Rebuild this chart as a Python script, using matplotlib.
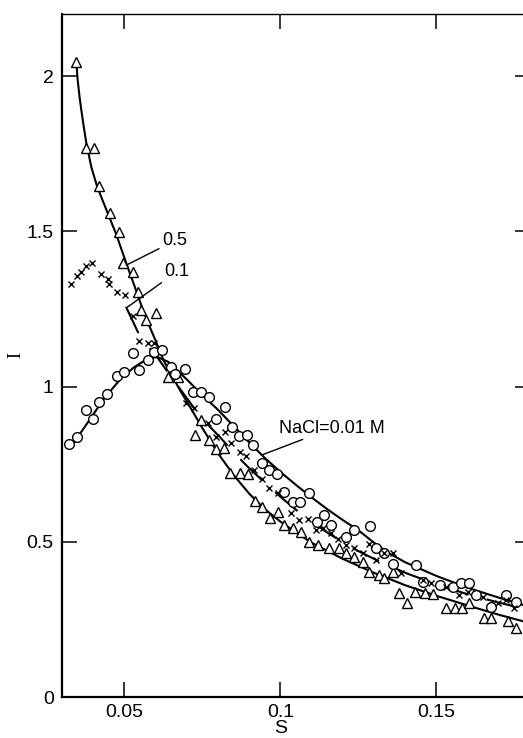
import matplotlib
matplotlib.use("Agg")
import matplotlib.pyplot as plt

plt.rcParams['font.family'] = ['Liberation Sans Narrow', 'Liberation Sans', 'DejaVu Sans']

# ---- data: NaCl = 0.5 M (triangles) ----
s_05 = [0.0346, 0.0377, 0.0401, 0.0420, 0.0455, 0.0482, 0.0494, 0.0527, 0.0543, 0.0553,
        0.0602, 0.0570, 0.0639, 0.0671, 0.0746, 0.0727, 0.0772, 0.0794, 0.0820, 0.0840,
        0.0869, 0.0895, 0.0920, 0.0941, 0.0968, 0.0991, 0.1013, 0.1039, 0.1066, 0.1093,
        0.1120, 0.1157, 0.1189, 0.1211, 0.1237, 0.1264, 0.1285, 0.1317, 0.1333, 0.1360,
        0.1381, 0.1406, 0.1430, 0.1462, 0.1490, 0.1532, 0.1560, 0.1581, 0.1606, 0.1654,
        0.1676, 0.1728, 0.1755]
i_05 = [2.045, 1.768, 1.768, 1.646, 1.559, 1.498, 1.399, 1.370, 1.305, 1.246,
        1.236, 1.214, 1.032, 1.030, 0.892, 0.845, 0.828, 0.798, 0.801, 0.722,
        0.722, 0.718, 0.632, 0.613, 0.578, 0.595, 0.554, 0.543, 0.532, 0.500,
        0.490, 0.479, 0.479, 0.463, 0.452, 0.436, 0.404, 0.393, 0.382, 0.404,
        0.334, 0.302, 0.339, 0.334, 0.332, 0.286, 0.286, 0.286, 0.302, 0.253,
        0.253, 0.245, 0.221]

# ---- data: NaCl = 0.1 M (crosses) ----
s_01 = [0.0329, 0.0348, 0.0361, 0.0377, 0.0395, 0.0425, 0.0447, 0.0452, 0.0476, 0.0503,
        0.0527, 0.0548, 0.0575, 0.0596, 0.0698, 0.0724, 0.0767, 0.0794, 0.0821, 0.0842,
        0.0869, 0.0890, 0.0914, 0.0942, 0.0965, 0.0991, 0.1034, 0.1061, 0.1087, 0.1114,
        0.1136, 0.1163, 0.1184, 0.1211, 0.1237, 0.1264, 0.1283, 0.1307, 0.1333, 0.1360,
        0.1387, 0.1456, 0.1483, 0.1531, 0.1574, 0.1600, 0.1649, 0.1697, 0.1723, 0.1750]
i_01 = [1.330, 1.356, 1.370, 1.388, 1.399, 1.364, 1.345, 1.330, 1.305, 1.295,
        1.228, 1.146, 1.141, 1.141, 0.946, 0.930, 0.881, 0.838, 0.854, 0.817,
        0.790, 0.776, 0.731, 0.703, 0.672, 0.658, 0.592, 0.570, 0.573, 0.538,
        0.543, 0.527, 0.510, 0.490, 0.479, 0.463, 0.492, 0.441, 0.463, 0.463,
        0.398, 0.377, 0.366, 0.355, 0.328, 0.339, 0.323, 0.302, 0.312, 0.286]

# ---- data: NaCl = 0.01 M (circles) ----
s_001 = [0.0324, 0.0348, 0.0377, 0.0398, 0.0420, 0.0445, 0.0477, 0.0500, 0.0527, 0.0548,
         0.0575, 0.0596, 0.0620, 0.0649, 0.0662, 0.0695, 0.0719, 0.0744, 0.0772, 0.0794,
         0.0821, 0.0845, 0.0866, 0.0892, 0.0913, 0.0941, 0.0965, 0.0988, 0.1013, 0.1039,
         0.1064, 0.1093, 0.1116, 0.1141, 0.1163, 0.1211, 0.1237, 0.1288, 0.1307, 0.1333,
         0.1360, 0.1435, 0.1456, 0.1510, 0.1552, 0.1579, 0.1606, 0.1627, 0.1675, 0.1723,
         0.1755]
i_001 = [0.815, 0.838, 0.924, 0.894, 0.951, 0.976, 1.034, 1.048, 1.107, 1.053,
         1.085, 1.112, 1.118, 1.064, 1.042, 1.055, 0.983, 0.983, 0.967, 0.894,
         0.935, 0.870, 0.841, 0.844, 0.812, 0.753, 0.731, 0.718, 0.661, 0.629,
         0.629, 0.658, 0.565, 0.586, 0.554, 0.516, 0.538, 0.551, 0.479, 0.463,
         0.430, 0.425, 0.371, 0.361, 0.355, 0.366, 0.366, 0.329, 0.291, 0.329,
         0.307]

# ---- fitted curves ----
fit05_s = [0.0346, 0.0350, 0.0356, 0.0362, 0.0370, 0.0378, 0.0394, 0.0413, 0.0430, 0.0446,
           0.0474, 0.0505, 0.0537, 0.0560, 0.0580, 0.0600, 0.0625, 0.0650, 0.0680, 0.0710,
           0.0750, 0.0800, 0.0850, 0.0900, 0.0950, 0.1000, 0.1050, 0.1100, 0.1200, 0.1300,
           0.1400, 0.1500, 0.1600, 0.1700, 0.1800]
fit05_i = [2.045, 1.990, 1.935, 1.890, 1.835, 1.784, 1.707, 1.643, 1.600, 1.560,
           1.490, 1.400, 1.311, 1.245, 1.195, 1.148, 1.085, 1.040, 0.985, 0.935,
           0.866, 0.785, 0.715, 0.655, 0.605, 0.565, 0.530, 0.497, 0.445, 0.400,
           0.360, 0.326, 0.295, 0.265, 0.238]

fit01_s = [0.0505, 0.0543, 0.0575, 0.0605, 0.0640, 0.0680, 0.0720, 0.0760, 0.0810, 0.0850,
           0.0895, 0.0950, 0.1000, 0.1050, 0.1100, 0.1150, 0.1200, 0.1250, 0.1300, 0.1400,
           0.1500, 0.1600, 0.1700, 0.1800]
fit01_i = [1.257, 1.176, 1.130, 1.095, 1.045, 0.990, 0.935, 0.885, 0.833, 0.788,
           0.742, 0.690, 0.645, 0.603, 0.565, 0.530, 0.498, 0.470, 0.445, 0.400,
           0.363, 0.331, 0.304, 0.280]

fit001_s = [0.0333, 0.0381, 0.0436, 0.0490, 0.0532, 0.0574, 0.0606, 0.0640, 0.0702, 0.0756,
            0.0795, 0.0850, 0.0900, 0.0950, 0.1000, 0.1050, 0.1100, 0.1150, 0.1200, 0.1250,
            0.1300, 0.1350, 0.1400, 0.1500, 0.1600, 0.1700, 0.1800]
fit001_i = [0.812, 0.882, 0.963, 1.027, 1.063, 1.089, 1.095, 1.080, 1.021, 0.966,
            0.930, 0.873, 0.820, 0.770, 0.725, 0.683, 0.643, 0.605, 0.570, 0.537,
            0.497, 0.462, 0.434, 0.390, 0.352, 0.320, 0.290]

x_ticks = [0.05, 0.1, 0.15]
x_ticklabels = ['0.05', '0.1', '0.15']
y_ticks = [0, 0.5, 1, 1.5, 2]
y_ticklabels = ['0', '0.5', '1', '1.5', '2']

W, H = 523, 738
fig = plt.figure(figsize=(W / 100, H / 100), dpi=100)
ax = fig.add_axes([62 / W, 41 / H, 468 / W, 683 / H])
ax.set_xlim(0.03, 0.18)
ax.set_ylim(0, 2.2)

lw = 1.5
ax.plot(fit05_s, fit05_i, color='black', lw=lw, zorder=2)
ax.plot(fit001_s, fit001_i, color='black', lw=lw, zorder=2)
ax.plot(fit01_s, fit01_i, color='black', lw=lw, zorder=2, dashes=(14, 9))

ax.plot(s_05, i_05, linestyle='none', marker='^', ms=6.5, mfc='white', mec='black', mew=1.0, zorder=3)
ax.plot(s_001, i_001, linestyle='none', marker='o', ms=7, mfc='white', mec='black', mew=1.0, zorder=3)
ax.plot(s_01, i_01, linestyle='none', marker='x', ms=4.5, mec='black', mew=1.0, zorder=4)

# curve labels with leader lines
lab_kw = dict(fontsize=13, color='black', va='center', ha='left',
              arrowprops=dict(arrowstyle='-', color='black', lw=1.0, shrinkA=0, shrinkB=0))
ax.annotate('0.5', xy=(0.0506, 1.391), xytext=(0.0620, 1.469), **lab_kw)
ax.annotate('0.1', xy=(0.0510, 1.256), xytext=(0.0628, 1.370), **lab_kw)
ax.annotate('NaCl=0.01 M', xy=(0.0939, 0.779), xytext=(0.0997, 0.866), **lab_kw)

ax.set_xticks(x_ticks)
ax.set_xticklabels(x_ticklabels)
ax.set_yticks(y_ticks)
ax.set_yticklabels(y_ticklabels)
ax.tick_params(direction='in', length=11, width=1.1, top=True, right=True,
               labelsize=14)
ax.tick_params(axis='x', pad=5)
ax.tick_params(axis='y', pad=6)

for side in ['left', 'bottom']:
    ax.spines[side].set_linewidth(1.6)
for side in ['top', 'right']:
    ax.spines[side].set_linewidth(1.0)

ax.set_xlabel('S', fontsize=14)
ax.xaxis.set_label_coords((281 - 62) / 468, -(720 - 697) / 683)
ax.set_ylabel('I', fontsize=13, family=['Liberation Serif', 'DejaVu Serif'])
ax.yaxis.set_label_coords((24 - 62) / 468, 0.5)

fig.savefig('out.png', dpi=100)
